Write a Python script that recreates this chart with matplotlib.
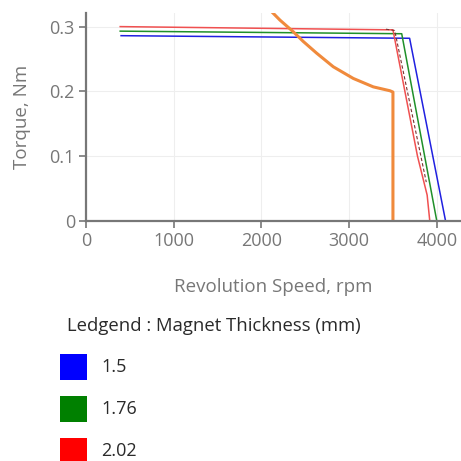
import matplotlib
matplotlib.use('Agg')
import matplotlib.pyplot as plt
from matplotlib.patches import Rectangle

# Torque-speed curves for each magnet thickness
blue_rpm = [400, 3690, 4100]
blue_torque = [0.286, 0.282, 0.0]
green_rpm = [390, 3600, 4000]
green_torque = [0.293, 0.289, 0.0]
red_rpm = [390, 3500, 3780, 3890, 3920]
red_torque = [0.300, 0.295, 0.100, 0.040, 0.0]
dark_rpm = [3420, 3520, 3880]
dark_torque = [0.296, 0.294, 0.060]
# load curve
orange_rpm = [2117, 2212, 2364, 2478, 2630, 2820, 3048, 3276, 3466, 3500, 3500]
orange_torque = [0.323, 0.310, 0.292, 0.277, 0.259, 0.238, 0.220, 0.207, 0.201, 0.199, 0.0]

x_ticks = [0, 1000, 2000, 3000, 4000]
y_ticks = [0, 0.1, 0.2, 0.3]
y_ticklabels = ['0', '0.1', '0.2', '0.3']
legend_labels = ['1.5', '1.76', '2.02']
legend_colors = ['#0000ff', '#008000', '#ff0000']

fig = plt.figure(figsize=(4.61, 4.61), dpi=100)
ax = fig.add_axes([86/461, 1 - 221/461, 375/461, 208/461])

ax.plot(blue_rpm, blue_torque, color='#2020e0', lw=1.1)
ax.plot(green_rpm, green_torque, color='#20902a', lw=1.1)
ax.plot(red_rpm, red_torque, color='#f05050', lw=1.1)
ax.plot(dark_rpm, dark_torque, color='#7a3030', lw=0.8, ls=(0, (3, 2)))
ax.plot(orange_rpm, orange_torque, color='#f08a3c', lw=2.2)

ax.set_xlim(0, 4276)
ax.set_ylim(0, 0.321)
ax.set_xticks(x_ticks)
ax.set_yticks(y_ticks)
ax.set_yticklabels(y_ticklabels)
ax.grid(True, color='#eeeeee', lw=0.8)
ax.set_axisbelow(True)
for s in ['top', 'right']:
    ax.spines[s].set_visible(False)
for s in ['left', 'bottom']:
    ax.spines[s].set_color('#777777')
    ax.spines[s].set_linewidth(1.6)
ax.tick_params(colors='#777777', labelcolor='#777777', length=5, width=1.2,
               labelsize=13, pad=3)
for lab in ax.get_xticklabels() + ax.get_yticklabels():
    lab.set_fontfamily('Open Sans')

ax.set_xlabel('Revolution Speed, rpm', fontfamily='Open Sans', fontsize=13.5,
              color='#777777', labelpad=20)
ax.set_ylabel('Torque, Nm', fontfamily='Open Sans', fontsize=13.5,
              color='#777777', labelpad=13)

# legend drawn by hand below the chart
fig.text(67/461, 1 - 326/461, 'Ledgend : Magnet Thickness (mm)', fontfamily='Open Sans',
         fontsize=13.3, color='#2a2a2a', va='center', ha='left')
for i, (lab, col) in enumerate(zip(legend_labels, legend_colors)):
    yc = 367 + i * 42
    fig.add_artist(Rectangle((60/461, 1 - (yc + 13)/461), 27/461, 26/461,
                             transform=fig.transFigure, color=col, lw=0))
    fig.text(101/461, 1 - yc/461, lab, fontfamily='Open Sans', fontsize=13,
             color='#2a2a2a', va='center', ha='left')

plt.savefig('out.png', dpi=100)
